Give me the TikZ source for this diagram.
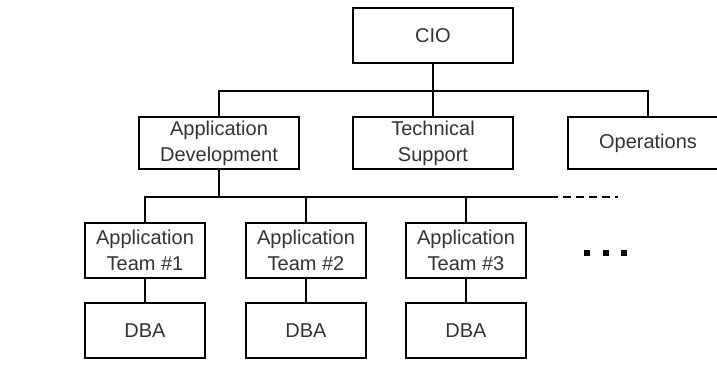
\documentclass[tikz,border=0pt]{standalone}
\usepackage{fontspec}
\setmainfont{Liberation Sans}
\usetikzlibrary{positioning}
\tikzset{box/.style = {draw, line width = 1.4pt, minimum width = 160, minimum height = 55,
                       align = center, font = \fontsize{20}{26}\selectfont, text = black!80}}
\tikzset{wire/.style = {line width = 1.4pt}}
\tikzset{dot/.style = {fill, rectangle, inner sep = 0, minimum size = 6}}

\begin{document}
\begin{tikzpicture}[x = 1pt, y = -1pt]
      \useasboundingbox (0, 0) rectangle (717, 372);
      \clip (0, 0) rectangle (717, 372);
      \node [box] (cio) at (433, 35.5) {CIO};
      \node [box, minimum height = 52] (appdev) at (219, 143) {Application\\Development};
      \node [box, minimum height = 52] (tech) at (433, 143) {Technical\\Support};
      \node [box, minimum height = 52] (ops) at (648, 143) {Operations};
      \foreach \i/\x in {1/145, 2/306, 3/466} {
        \node [box, minimum width = 120] (team\i) at (\x, 250.5) {Application\\Team \#\i};
        \node [box, minimum width = 120] (dba\i) at (\x, 330.5) {DBA};
        \draw [wire] (team\i) -- (dba\i);
      }
      \coordinate (bus1) at (433, 91);
      \coordinate (bus2) at (219, 197);
      \coordinate (busend) at (550, 197);
      \coordinate (dashend) at (618, 197);
      \draw [wire] (cio.south) -- (bus1);
      \draw [wire] (appdev.north) |- (bus1) -| (ops.north);
      \draw [wire] (bus1) -- (tech.north);
      \draw [wire] (appdev.south) -- (bus2);
      \draw [wire] (team1.north) |- (busend);
      \draw [wire] (team2.north) -- (team2.north |- bus2);
      \draw [wire] (team3.north) -- (team3.north |- bus2);
      \draw [wire, dash pattern = on 8pt off 5pt] (busend) -- (dashend);
      \foreach \x in {587, 606, 624}
        \node [dot] (dot\x) at (\x, 253) {};
    \end{tikzpicture}
\end{document}
